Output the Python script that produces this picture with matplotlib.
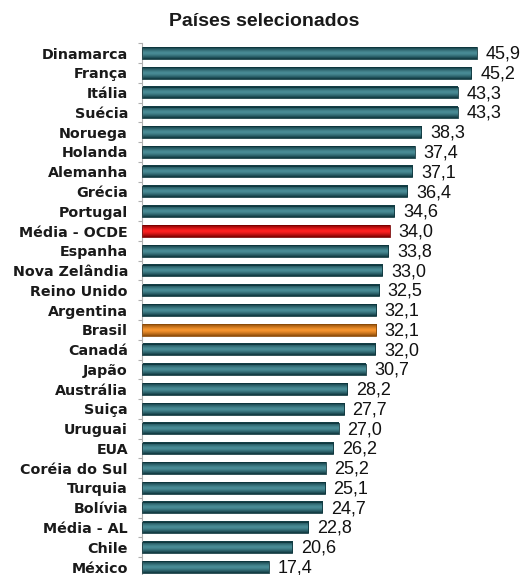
import matplotlib.pyplot as plt
import matplotlib.colors as mcolors
import numpy as np

paises = ["Dinamarca", "França", "Itália", "Suécia", "Noruega", "Holanda",
          "Alemanha", "Grécia", "Portugal", "Média - OCDE", "Espanha",
          "Nova Zelândia", "Reino Unido", "Argentina", "Brasil", "Canadá",
          "Japão", "Austrália", "Suiça", "Uruguai", "EUA", "Coréia do Sul",
          "Turquia", "Bolívia", "Média - AL", "Chile", "México"]
valores = [45.9, 45.2, 43.3, 43.3, 38.3, 37.4, 37.1, 36.4, 34.6, 34.0, 33.8,
           33.0, 32.5, 32.1, 32.1, 32.0, 30.7, 28.2, 27.7, 27.0, 26.2, 25.2,
           25.1, 24.7, 22.8, 20.6, 17.4]
destaques = {"Média - OCDE": ("#7a0000", "#ff2020"),
             "Brasil": ("#8a4a08", "#f7952e")}
padrao = ("#0d353c", "#4a8d97")

plt.rcParams['font.family'] = ['Liberation Sans', 'DejaVu Sans']

fig = plt.figure(figsize=(5.29, 5.75), dpi=100)
ax = fig.add_axes([0.268, -0.0033, 0.717, 0.928])

y = np.arange(len(paises))
barras = ax.barh(y, valores, height=0.58, color="none", edgecolor="none")

# gradiente vertical em cada barra: escuro nas bordas, claro no meio
perfil = np.abs(np.linspace(-1, 1, 64)) ** 1.4
for nome, b in zip(paises, barras):
    escuro, claro = destaques.get(nome, padrao)
    cmap = mcolors.LinearSegmentedColormap.from_list("g", [claro, escuro])
    x0, y0, w, h = b.get_x(), b.get_y(), b.get_width(), b.get_height()
    ax.imshow(perfil[:, None], cmap=cmap, aspect="auto",
              extent=(x0, x0 + w, y0 + h, y0), zorder=2, interpolation="bilinear")
    ax.add_patch(plt.Rectangle((x0, y0), w, h, fill=False,
                               edgecolor=escuro, linewidth=0.6, zorder=3))

for v, yi in zip(valores, y):
    ax.text(v + 1.2, yi + 0.05, f"{v:.1f}".replace(".", ","), va="center",
            ha="left", fontsize=13, color="#111111")

ax.set_xlim(0, 52)
ax.set_ylim(len(paises) - 0.5, -0.5)
ax.set_yticks(y)
ax.set_yticklabels(paises, fontsize=10.3, fontweight="bold", color="#1a1a1a",
                   family="DejaVu Sans")
ax.set_yticks(np.arange(len(paises) + 1) - 0.5, minor=True)
ax.tick_params(axis="y", which="major", length=0, pad=10)
ax.tick_params(axis="y", which="minor", length=3, color="#b0b0b0", width=0.8)
ax.set_xticks([])
for lado in ["top", "right", "bottom"]:
    ax.spines[lado].set_visible(False)
ax.spines["left"].set_color("#b0b0b0")
ax.spines["left"].set_linewidth(0.8)

fig.text(0.5, 0.963, "Países selecionados", ha="center", va="center",
         fontsize=14, fontweight="bold", color="#1a1a1a")

fig.savefig("out.png", dpi=100)
